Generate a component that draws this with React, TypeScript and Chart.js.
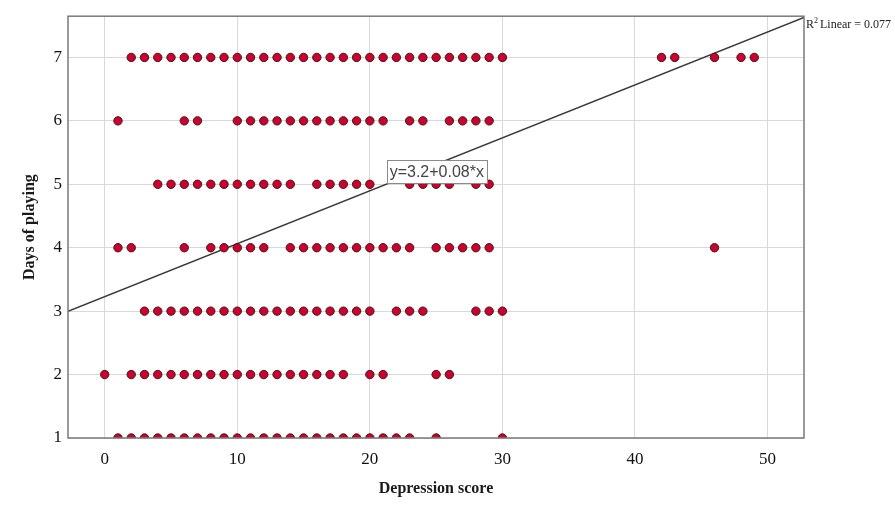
import React, { useEffect, useRef } from "react";
import { Chart, registerables } from "chart.js";

Chart.register(...registerables);

// x-values (Depression score) of the points in each "Days of playing" row
const DAYS_7_X = [2, 3, 4, 5, 6, 7, 8, 9, 10, 11, 12, 13, 14, 15, 16, 17, 18, 19, 20, 21, 22, 23, 24, 25, 26, 27, 28, 29, 30, 42, 43, 46, 48, 49];
const DAYS_6_X = [1, 6, 7, 10, 11, 12, 13, 14, 15, 16, 17, 18, 19, 20, 21, 23, 24, 26, 27, 28, 29];
const DAYS_5_X = [4, 5, 6, 7, 8, 9, 10, 11, 12, 13, 14, 16, 17, 18, 19, 20, 23, 24, 25, 26, 28, 29];
const DAYS_4_X = [1, 2, 6, 8, 9, 10, 11, 12, 14, 15, 16, 17, 18, 19, 20, 21, 22, 23, 25, 26, 27, 28, 29, 46];
const DAYS_3_X = [3, 4, 5, 6, 7, 8, 9, 10, 11, 12, 13, 14, 15, 16, 17, 18, 19, 20, 22, 23, 24, 28, 29, 30];
const DAYS_2_X = [0, 2, 3, 4, 5, 6, 7, 8, 9, 10, 11, 12, 13, 14, 15, 16, 17, 18, 20, 21, 25, 26];
const DAYS_1_X = [1, 2, 3, 4, 5, 6, 7, 8, 9, 10, 11, 12, 13, 14, 15, 16, 17, 18, 19, 20, 21, 22, 23, 25, 30];

const ROWS: [number, number[]][] = [
  [7, DAYS_7_X],
  [6, DAYS_6_X],
  [5, DAYS_5_X],
  [4, DAYS_4_X],
  [3, DAYS_3_X],
  [2, DAYS_2_X],
  [1, DAYS_1_X],
];

const X_TICKS = [0, 10, 20, 30, 40, 50];
const Y_TICKS = [1, 2, 3, 4, 5, 6, 7];
const X_MIN = -2.77;
const X_MAX = 52.75;
const Y_MIN = 1;
const Y_MAX = 7.65;

const FIT_INTERCEPT = 3.23;
const FIT_SLOPE = 0.0834;
const FIT_LABEL = "y=3.2+0.08*x";
const FIT_LABEL_AT = { x: 25.05, y: 5.2 };
const R2_TEXT = "0.077";

const X_TITLE = "Depression score";
const Y_TITLE = "Days of playing";

export default function App() {
  const ref = useRef<HTMLCanvasElement | null>(null);

  useEffect(() => {
    const canvas = ref.current;
    if (!canvas) return;

    const points = ROWS.flatMap(([y, xs]) => xs.map((x) => ({ x, y })));
    const fitLine = [X_MIN, X_MAX].map((x) => ({ x, y: FIT_INTERCEPT + FIT_SLOPE * x }));

    const overlay = {
      id: "overlay",
      afterDraw(chart: any) {
        const { ctx, chartArea } = chart;
        const xs = chart.scales.x;
        const ys = chart.scales.y;
        ctx.save();
        // frame
        ctx.strokeStyle = "#7a7a7a";
        ctx.lineWidth = 1.5;
        ctx.strokeRect(chartArea.left, chartArea.top, chartArea.right - chartArea.left, chartArea.bottom - chartArea.top);

        // fit label box
        ctx.font = "16px 'Liberation Sans', Arial, sans-serif";
        const tw = ctx.measureText(FIT_LABEL).width;
        const cx = xs.getPixelForValue(FIT_LABEL_AT.x);
        const cy = ys.getPixelForValue(FIT_LABEL_AT.y);
        const bw = tw + 6;
        const bh = 23;
        ctx.fillStyle = "#ffffff";
        ctx.fillRect(cx - bw / 2, cy - bh / 2, bw, bh);
        ctx.strokeStyle = "#8a8a8a";
        ctx.lineWidth = 1;
        ctx.strokeRect(Math.round(cx - bw / 2) + 0.5, Math.round(cy - bh / 2) + 0.5, Math.round(bw), bh);
        ctx.fillStyle = "#444444";
        ctx.textAlign = "center";
        ctx.textBaseline = "middle";
        ctx.fillText(FIT_LABEL, cx, cy + 1);

        // R² label
        ctx.fillStyle = "#222222";
        ctx.textAlign = "left";
        ctx.textBaseline = "alphabetic";
        let tx = chartArea.right + 2;
        const ty = chartArea.top + 12;
        ctx.font = "12px 'Liberation Serif', serif";
        ctx.fillText("R", tx, ty);
        tx += ctx.measureText("R").width;
        ctx.font = "8px 'Liberation Serif', serif";
        ctx.fillText("2", tx, ty - 5);
        tx += ctx.measureText("2").width + 2;
        ctx.font = "12px 'Liberation Serif', serif";
        ctx.fillText("Linear = " + R2_TEXT, tx, ty);

        // axis titles
        ctx.fillStyle = "#1a1a1a";
        ctx.font = "bold 16px 'Liberation Serif', serif";
        ctx.textAlign = "center";
        ctx.textBaseline = "middle";
        ctx.fillText(X_TITLE, (chartArea.left + chartArea.right) / 2, 489);
        ctx.translate(30, (chartArea.top + chartArea.bottom) / 2);
        ctx.rotate(-Math.PI / 2);
        ctx.fillText(Y_TITLE, 0, 0);
        ctx.restore();
      },
    };

    const chart = new Chart(canvas, {
      type: "scatter",
      data: {
        datasets: [
          {
            type: "scatter",
            data: points,
            backgroundColor: "#cf002b",
            borderColor: "#3a1c1c",
            borderWidth: 1,
            pointRadius: 4.2,
            pointHoverRadius: 4.2,
            clip: 0,
            order: 1,
          } as any,
          {
            type: "line",
            data: fitLine,
            borderColor: "#3a3a3a",
            borderWidth: 1.5,
            pointRadius: 0,
            fill: false,
            showLine: true,
            clip: 0,
            order: 2,
          } as any,
        ],
      },
      options: {
        responsive: false,
        animation: false,
        layout: { padding: { left: 0, right: 91, top: 13, bottom: 0 } },
        plugins: { legend: { display: false }, tooltip: { enabled: false } },
        scales: {
          x: {
            type: "linear",
            min: X_MIN,
            max: X_MAX,
            afterBuildTicks: (s: any) => {
              s.ticks = X_TICKS.map((v) => ({ value: v }));
            },
            afterFit: (s: any) => {
              s.height = 69;
            },
            grid: { color: "#d9d9d9", lineWidth: 1, drawTicks: false },
            border: { display: false },
            ticks: {
              padding: 11,
              color: "#111111",
              font: { family: "'Liberation Serif', serif", size: 17 },
              maxRotation: 0,
            },
          },
          y: {
            type: "linear",
            min: Y_MIN,
            max: Y_MAX,
            afterBuildTicks: (s: any) => {
              s.ticks = Y_TICKS.map((v) => ({ value: v }));
            },
            afterFit: (s: any) => {
              s.width = 68;
            },
            grid: { color: "#d9d9d9", lineWidth: 1, drawTicks: false },
            border: { display: false },
            ticks: {
              padding: 6,
              color: "#111111",
              font: { family: "'Liberation Serif', serif", size: 17 },
            },
          },
        },
      },
      plugins: [overlay],
    });

    return () => chart.destroy();
  }, []);

  return (
    <div style={{ position: "absolute", left: 0, top: 0, width: 895, height: 507, background: "#ffffff" }}>
      <canvas ref={ref} width={895} height={507} style={{ width: 895, height: 507, display: "block" }} />
    </div>
  );
}
